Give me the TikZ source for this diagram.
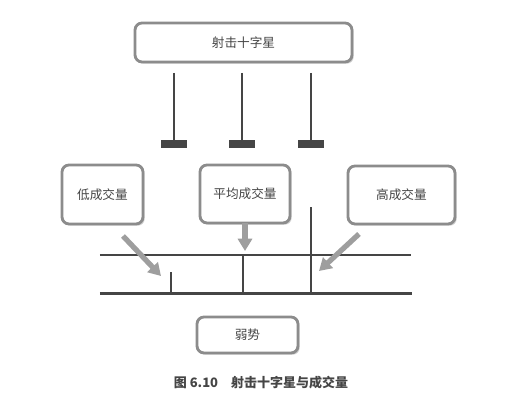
\documentclass[tikz,border=0pt]{standalone}
\usepackage{fontspec}
\setmainfont{Noto Sans CJK SC}
\usetikzlibrary{arrows.meta,shadows}
\definecolor{gray1}{rgb}{0.55,0.55,0.55}
\definecolor{gray2}{rgb}{0.27,0.27,0.27}
\definecolor{gray3}{rgb}{0.62,0.62,0.62}

\tikzset{
  signbox/.style={draw=gray1,line width=1.6pt,rounded corners=4pt,fill=white,
    drop shadow={shadow xshift=1pt,shadow yshift=-1pt,opacity=0.35},
    align=center,inner sep=0pt,font=\fontsize{7.2}{8}\selectfont,text=gray2},
  stembar/.style={fill=gray2,draw=none,minimum width=0.54cm,minimum height=0.16cm,inner sep=0pt},
  fatarrow/.style={draw=gray3,line width=3pt,-{Triangle[width=8pt,length=7pt]}},
}

\begin{document}
\begin{tikzpicture}[x=0.02cm,y=-0.02cm]

    \useasboundingbox[fill=white] (0,0) rectangle (505,408);

    % boxes
    \node[signbox,minimum width=4.34cm,minimum height=0.78cm] (cross) at (243.5,42.5) {射击十字星};
    \node[signbox,minimum width=1.62cm,minimum height=1.18cm] (low)  at (102.5,194.5) {低成交量};
    \node[signbox,minimum width=1.80cm,minimum height=1.16cm] (avg)  at (245,194) {平均成交量};
    \node[signbox,minimum width=2.14cm,minimum height=1.16cm] (high) at (401.5,195) {高成交量};
    \node[signbox,minimum width=2.02cm,minimum height=0.72cm] (weak) at (247.5,335) {弱势};

    % shooting star stems
    \foreach \x/\n in {174/1,242/2,311/3} {
      \node[stembar] (bar\n) at (\x,144) {};
      \coordinate (top\n) at (\x,73);
      \draw[gray2,line width=1.4pt] (top\n) -- (bar\n.north);
    }

    % volume chart
    \coordinate (upL) at (100,255);
    \coordinate (upR) at (411,255);
    \coordinate (lowL) at (100,293.5);
    \coordinate (lowR) at (412,293.5);
    \draw[gray2,line width=0.8pt] (upL) -- (upR);
    \draw[gray2,line width=1.3pt] (lowL) -- (lowR);
    \coordinate (v1) at (171,293.5);
    \coordinate (v2) at (243,293.5);
    \coordinate (v3) at (311,293.5);
    \draw[gray2,line width=1.6pt] (v1) -- ++(0,-21);
    \draw[gray2,line width=1.6pt] (v2) -- ++(0,-39);
    \draw[gray2,line width=1.6pt] (v3) -- ++(0,-86);

    % arrows
    \coordinate (a1s) at (123,236);
    \coordinate (a1e) at (161,276);
    \coordinate (a2s) at (245,223);
    \coordinate (a2e) at (245,251);
    \coordinate (a3s) at (359,234);
    \coordinate (a3e) at (319,271);
    \draw[fatarrow] (a1s) -- (a1e);
    \draw[fatarrow] (a2s) -- (a2e);
    \draw[fatarrow] (a3s) -- (a3e);

    % caption
    \node[font=\fontsize{7.4}{9}\selectfont\bfseries,text=gray2] (caption) at (261,383) {图 6.10\quad 射击十字星与成交量};

  \end{tikzpicture}
\end{document}
